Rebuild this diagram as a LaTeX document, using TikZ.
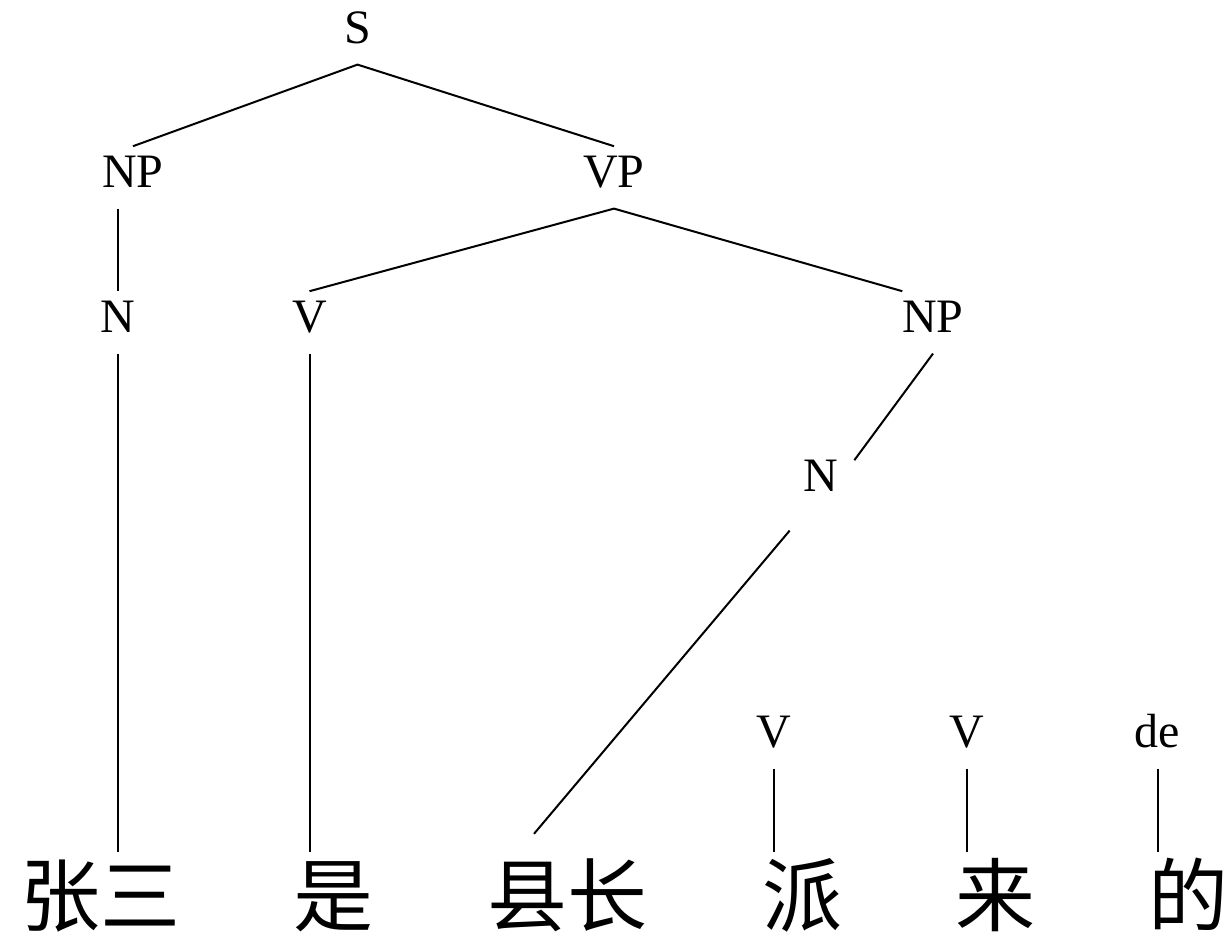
\documentclass[tikz,border=0pt]{standalone}
\usepackage{fontspec}
\setmainfont{Liberation Serif}
\newfontfamily\cjk{Noto Sans CJK SC}

\tikzset{
	cat/.style={inner sep=0pt, outer sep=0pt, text height=20.4pt, text depth=10.8pt, font=\fontsize{24}{28}\selectfont},
	word/.style={inner sep=0pt, outer sep=0pt, text height=36.8pt, text depth=4.8pt, font=\fontsize{40}{48}\selectfont\cjk},
	branch/.style={line width=1pt}
}

\begin{document}
\begin{tikzpicture}[x=0.5pt, y=-0.5pt]
					\useasboundingbox (0,0) rectangle (1232,938);
					
					% rijen
					\def\ya{33.4}
					\def\yb{177.4}
					\def\yc{322.4}
					\def\yd{481.4}
					\def\ye{737.4}
					\def\yw{893.4}
					
					% categorieen
					\node[cat] (s)   at (357.5, \ya) {S};
					\node[cat] (np)  at (133,   \yb) {NP};
					\node[cat] (vp)  at (614,   \yb) {VP};
					\node[cat] (n)   at (117.5, \yc) {N};
					\node[cat] (v)   at (309.5, \yc) {V};
					\node[cat] (npb) at (933,   \yc) {NP};
					\node[cat] (nb)  at (821,   \yd) {N};
					\node[cat] (va)  at (773.5, \ye) {V};
					\node[cat] (vb)  at (967,   \ye) {V};
					\node[cat] (de)  at (1157.5,\ye) {de};
					
					% woorden
					\node[word] (zhangsan)  at (100,  \yw) {张三};
					\node[word] (shi)       at (333,  \yw) {是};
					\node[word] (xianzhang) at (567,  \yw) {县长};
					\node[word] (pai)       at (802,  \yw) {派};
					\node[word] (lai)       at (995,  \yw) {来};
					\node[word] (dechar)    at (1188, \yw) {的};
					
					% takken
					\draw[branch] (np.north) -- (s.south) -- (vp.north);
					\draw[branch] (v.north) -- (vp.south) -- (npb.north west);
					\draw[branch] (n.north |- np.south) -- (n.north);
					\draw[branch] (npb.south) -- ([xshift=8pt, yshift=-5pt]nb.north east);
					\draw[branch] ([xshift=-7pt, yshift=-9pt]nb.south west) -- ([xshift=-16.5pt, yshift=9pt]xianzhang.north);
					\draw[branch] (n.south)  -- (n.south  |- zhangsan.north);
					\draw[branch] (v.south)  -- (v.south  |- shi.north);
					\draw[branch] (va.south) -- (va.south |- pai.north);
					\draw[branch] (vb.south) -- (vb.south |- lai.north);
					\draw[branch] (de.south) -- (de.south |- dechar.north);
\end{tikzpicture}
\end{document}
